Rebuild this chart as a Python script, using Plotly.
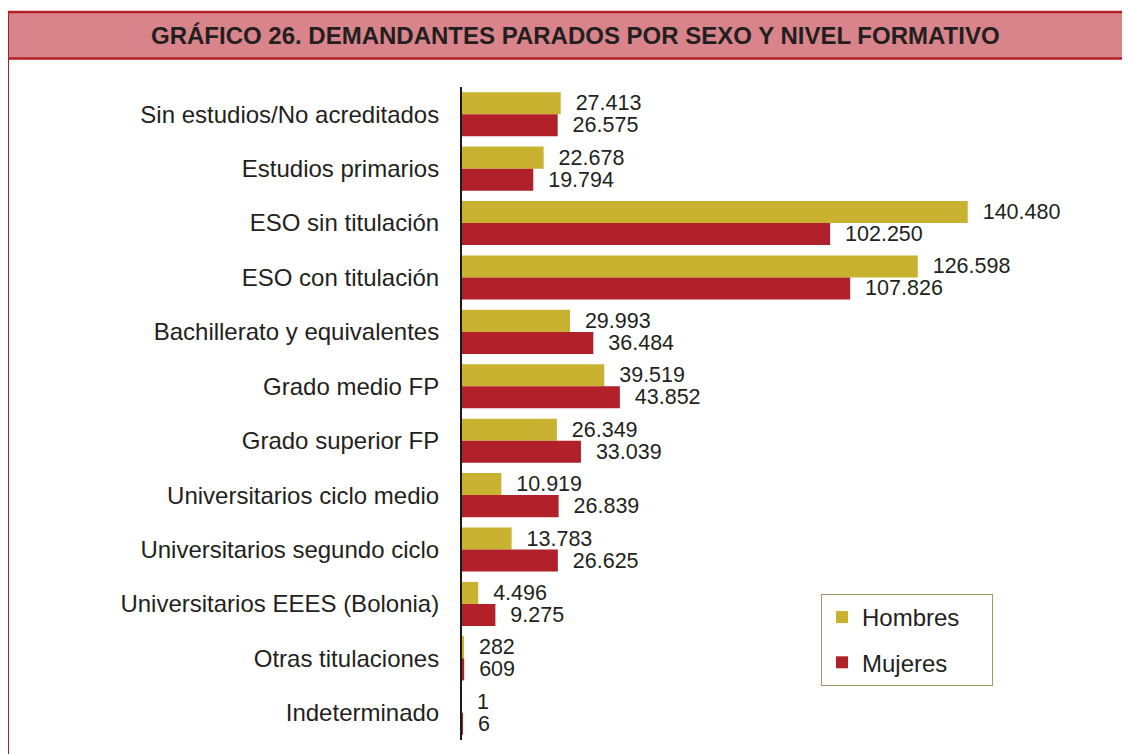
import plotly.graph_objects as go

categories = [
    "Sin estudios/No acreditados",
    "Estudios primarios",
    "ESO sin titulación",
    "ESO con titulación",
    "Bachillerato y equivalentes",
    "Grado medio FP",
    "Grado superior FP",
    "Universitarios ciclo medio",
    "Universitarios segundo ciclo",
    "Universitarios EEES (Bolonia)",
    "Otras titulaciones",
    "Indeterminado",
]
hombres = [27413, 22678, 140480, 126598, 29993, 39519, 26349, 10919, 13783, 4496, 282, 1]
mujeres = [26575, 19794, 102250, 107826, 36484, 43852, 33039, 26839, 26625, 9275, 609, 6]

title_text = "GRÁFICO 26. DEMANDANTES PARADOS POR SEXO Y NIVEL FORMATIVO"

GOLD = "#c8b22f"
RED = "#b2202a"
FONT = "Liberation Sans, Arial, sans-serif"
TXT = "#231f20"

# page has an 8px body margin; positions below are in figure coords
OFF = 8
W, H = 1130, 754
ML, MR, MT, MB = 462 - OFF, 30, 87 - OFF, H - (740 - OFF)
PW, PH = W - ML - MR, H - MT - MB


def px(xp):
    # xp given in page pixels
    return (xp - OFF - ML) / PW


def py(yp):
    return (H - MB - (yp - OFF)) / PH


fig = go.Figure()
for name, vals, col, grp in [("Hombres", hombres, GOLD, "h"), ("Mujeres", mujeres, RED, "m")]:
    fig.add_trace(go.Bar(
        y=categories, x=vals, orientation="h", name=name + "\u00a0" * 4,
        marker=dict(color=col, line=dict(width=0)),
        text=["\u00a0\u00a0" + f"{v:,}".replace(",", ".") for v in vals],
        textposition="outside", cliponaxis=False, constraintext="none",
        textfont=dict(family=FONT, size=21.5, color=TXT),
        legendgroup=grp,
    ))

shapes = [
    dict(type="rect", xref="paper", yref="paper", x0=px(7), x1=px(1140), y0=py(59), y1=py(11),
         fillcolor="#d9848b", line=dict(width=0), layer="below"),
    dict(type="line", xref="paper", yref="paper", x0=px(7), x1=px(1140), y0=py(12), y1=py(12),
         line=dict(color="#b31e24", width=2.5)),
    dict(type="line", xref="paper", yref="paper", x0=px(7), x1=px(1140), y0=py(58.5), y1=py(58.5),
         line=dict(color="#b31e24", width=2.5)),
    dict(type="line", xref="paper", yref="paper", x0=px(8), x1=px(8), y0=py(11), y1=py(780),
         line=dict(color="#b31e24", width=2)),
]

fig.update_layout(
    width=W, height=H,
    margin=dict(l=ML, r=MR, t=MT, b=MB),
    paper_bgcolor="white", plot_bgcolor="white",
    barmode="group", bargap=0.19, bargroupgap=0,
    font=dict(family=FONT, color=TXT),
    showlegend=True,
    legend=dict(
        x=px(821), y=py(594), xanchor="left", yanchor="top",
        bordercolor="#a8955f", borderwidth=1, bgcolor="white",
        font=dict(family=FONT, size=24, color=TXT),
        traceorder="grouped", tracegroupgap=11,
    ),
    xaxis=dict(visible=False, range=[0, PW / 0.0036]),
    yaxis=dict(
        type="category", autorange="reversed",
        showline=True, linecolor="#1a1a1a", linewidth=2,
        ticks="", showgrid=False, zeroline=False,
        tickfont=dict(family=FONT, size=24, color=TXT),
        ticklabelstandoff=16,
    ),
    shapes=shapes,
    annotations=[dict(
        text="<b>" + title_text + "</b>", xref="paper", yref="paper",
        x=px(575), y=py(36), xanchor="center", yanchor="middle", showarrow=False,
        font=dict(family=FONT, size=24, color=TXT),
    )],
)

fig.write_html("out.html")
